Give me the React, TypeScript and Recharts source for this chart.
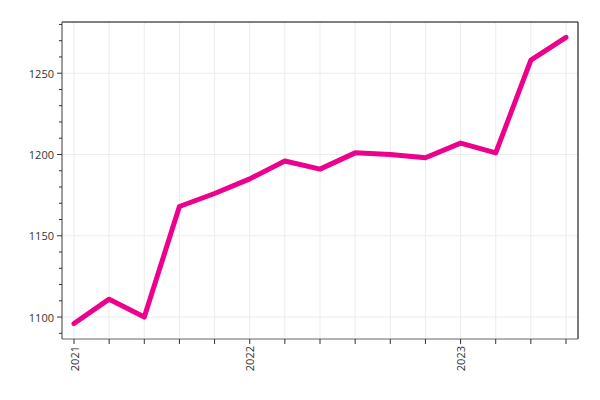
import React from 'react'
import { CartesianGrid, Line, LineChart, XAxis, YAxis } from 'recharts'

// one value per period, 2021 to 2023
const values = [1096, 1111, 1100, 1168, 1176, 1185, 1196, 1191, 1201, 1200, 1198, 1207, 1201, 1258, 1272]
const xLabels = ['2021', '', '', '', '', '2022', '', '', '', '', '', '2023', '', '', '']
const majorTicks = [1100, 1150, 1200, 1250]
const minorTicks = [1090, 1100, 1110, 1120, 1130, 1140, 1150, 1160, 1170, 1180, 1190, 1200, 1210, 1220, 1230, 1240, 1250, 1260, 1270, 1280]

const data = values.map((v, i) => ({ idx: i, value: v }))

const font = '"Open Sans", sans-serif'

const YTick = (props: any) => {
    const { x, y, payload } = props
    const major = majorTicks.includes(payload.value)
    return (
        <g>
            <line x1={x} x2={x - (major ? 5 : 3)} y1={y} y2={y} stroke='#333' strokeWidth={1} />
            {major && (
                <text x={x - 8} y={y} textAnchor='end' dominantBaseline='central' fontSize={11} fill='#333' fontFamily={font}>
                    {payload.value}
                </text>
            )}
        </g>
    )
}

const XTick = (props: any) => {
    const { x, y, payload } = props
    const label = xLabels[payload.value]
    return (
        <g>
            <line x1={x} x2={x} y1={y} y2={y + 5} stroke='#333' strokeWidth={1} />
            {label && (
                <text
                    x={x}
                    y={y + 7}
                    transform={`rotate(-90 ${x} ${y + 7})`}
                    textAnchor='end'
                    dominantBaseline='central'
                    fontSize={11}
                    fill='#333'
                    fontFamily={font}
                >
                    {label}
                </text>
            )}
        </g>
    )
}

export default function App() {
    return (
        <div style={{ position: 'absolute', left: 0, top: 0 }}>
            <LineChart width={600} height={400} data={data} margin={{ top: 22, right: 22, left: 0, bottom: 0 }}>
                <CartesianGrid stroke='#ececec' horizontalValues={majorTicks} />
                {/* top and right frame */}
                <CartesianGrid
                    stroke='#000'
                    horizontalCoordinatesGenerator={({ offset }: any) => [offset.top]}
                    verticalCoordinatesGenerator={({ offset }: any) => [offset.left + offset.width]}
                />
                <XAxis
                    dataKey='idx'
                    type='category'
                    interval={0}
                    padding={{ left: 12, right: 12 }}
                    height={61}
                    tickSize={0}
                    tickMargin={0}
                    tickLine={false}
                    tick={<XTick />}
                    axisLine={{ stroke: '#666' }}
                />
                <YAxis
                    domain={[1086.5, 1281.5]}
                    ticks={minorTicks}
                    interval={0}
                    width={62}
                    tickSize={0}
                    tickMargin={0}
                    tickLine={false}
                    tick={<YTick />}
                    axisLine={{ stroke: '#444' }}
                />
                <Line
                    dataKey='value'
                    stroke='#ec008c'
                    strokeWidth={5}
                    strokeLinejoin='round'
                    strokeLinecap='round'
                    dot={false}
                    isAnimationActive={false}
                />
            </LineChart>
        </div>
    )
}
